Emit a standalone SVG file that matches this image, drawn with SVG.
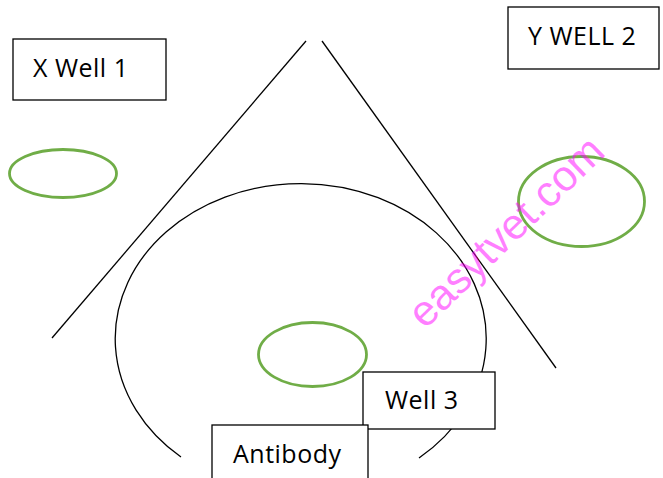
<svg xmlns="http://www.w3.org/2000/svg" width="663" height="478" viewBox="0 0 663 478">
<style>
.box{fill:#fff;stroke:#000;stroke-width:1.3}
.lbl{font-family:"Open Sans","Liberation Sans",sans-serif;font-size:25px;fill:#000;letter-spacing:0.5px}
.well{fill:none;stroke:#70AD47;stroke-width:2.8}
.line{fill:none;stroke:#000;stroke-width:1.3}
</style>
<rect width="663" height="478" fill="#fff"/>
<g id="lines">
<line class="line" x1="52" y1="338" x2="306" y2="41"/>
<line class="line" x1="322" y1="41" x2="556" y2="368"/>
<path class="line" d="M181,457 A185.5,155 0 1 1 419,458"/>
</g>
<g id="well1"><ellipse class="well" cx="63" cy="173.5" rx="53.5" ry="24"/></g>
<g id="well2"><ellipse class="well" cx="581.5" cy="201.5" rx="63" ry="45"/></g>
<g id="well3"><ellipse class="well" cx="312.5" cy="354.5" rx="54" ry="32"/></g>
<g id="label-x-well-1"><rect class="box" x="13" y="39" width="153" height="61"/><text class="lbl" x="33" y="77">X Well 1</text></g>
<g id="label-y-well-2"><rect class="box" x="508" y="7" width="151" height="62"/><text class="lbl" x="528" y="45">Y WELL 2</text></g>
<g id="label-well-3"><rect class="box" x="363" y="372" width="132" height="57"/><text class="lbl" x="385" y="409">Well 3</text></g>
<g id="label-antibody"><rect class="box" x="212" y="425" width="156" height="70"/><text class="lbl" x="233" y="463">Antibody</text></g>
<text x="516" y="242" text-anchor="middle" transform="rotate(-44 516 242)" font-family="Liberation Sans, sans-serif" font-size="43" fill="#ff00ff" fill-opacity="0.5">easytvet.com</text>
</svg>
